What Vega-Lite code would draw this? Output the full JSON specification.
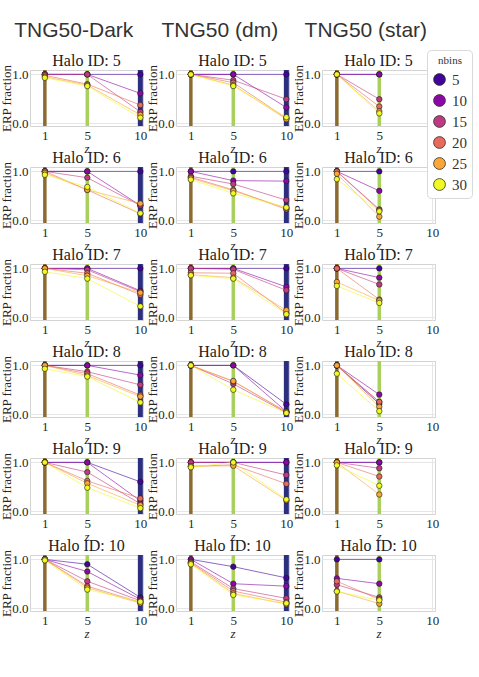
{
"$schema": "https://vega.github.io/schema/vega-lite/v6.json",
"background": "white",
"padding": {"top": 19, "left": 0, "right": 3, "bottom": 5},
"data": {"values": [
{"sim":"Dark","halo":5,"nbins":5,"z":1,"erp":1},{"sim":"Dark","halo":5,"nbins":5,"z":5,"erp":1},{"sim":"Dark","halo":5,"nbins":5,"z":10,"erp":1},
{"sim":"Dark","halo":5,"nbins":10,"z":1,"erp":1},{"sim":"Dark","halo":5,"nbins":10,"z":5,"erp":1},{"sim":"Dark","halo":5,"nbins":10,"z":10,"erp":0.61},
{"sim":"Dark","halo":5,"nbins":15,"z":1,"erp":1},{"sim":"Dark","halo":5,"nbins":15,"z":5,"erp":1},{"sim":"Dark","halo":5,"nbins":15,"z":10,"erp":0.23},
{"sim":"Dark","halo":5,"nbins":20,"z":1,"erp":0.98},{"sim":"Dark","halo":5,"nbins":20,"z":5,"erp":0.8},{"sim":"Dark","halo":5,"nbins":20,"z":10,"erp":0.37},
{"sim":"Dark","halo":5,"nbins":25,"z":1,"erp":0.95},{"sim":"Dark","halo":5,"nbins":25,"z":5,"erp":0.78},{"sim":"Dark","halo":5,"nbins":25,"z":10,"erp":0.17},
{"sim":"Dark","halo":5,"nbins":30,"z":1,"erp":0.93},{"sim":"Dark","halo":5,"nbins":30,"z":5,"erp":0.76},{"sim":"Dark","halo":5,"nbins":30,"z":10,"erp":0.11},
{"sim":"Dark","halo":6,"nbins":5,"z":1,"erp":1},{"sim":"Dark","halo":6,"nbins":5,"z":5,"erp":1},{"sim":"Dark","halo":6,"nbins":5,"z":10,"erp":1},
{"sim":"Dark","halo":6,"nbins":10,"z":1,"erp":1},{"sim":"Dark","halo":6,"nbins":10,"z":5,"erp":1},{"sim":"Dark","halo":6,"nbins":10,"z":10,"erp":0.3},
{"sim":"Dark","halo":6,"nbins":15,"z":1,"erp":1},{"sim":"Dark","halo":6,"nbins":15,"z":5,"erp":0.87},{"sim":"Dark","halo":6,"nbins":15,"z":10,"erp":0.3},
{"sim":"Dark","halo":6,"nbins":20,"z":1,"erp":1},{"sim":"Dark","halo":6,"nbins":20,"z":5,"erp":0.62},{"sim":"Dark","halo":6,"nbins":20,"z":10,"erp":0.13},
{"sim":"Dark","halo":6,"nbins":25,"z":1,"erp":0.97},{"sim":"Dark","halo":6,"nbins":25,"z":5,"erp":0.62},{"sim":"Dark","halo":6,"nbins":25,"z":10,"erp":0.34},
{"sim":"Dark","halo":6,"nbins":30,"z":1,"erp":0.93},{"sim":"Dark","halo":6,"nbins":30,"z":5,"erp":0.68},{"sim":"Dark","halo":6,"nbins":30,"z":10,"erp":0.14},
{"sim":"Dark","halo":7,"nbins":5,"z":1,"erp":1},{"sim":"Dark","halo":7,"nbins":5,"z":5,"erp":1},{"sim":"Dark","halo":7,"nbins":5,"z":10,"erp":1},
{"sim":"Dark","halo":7,"nbins":10,"z":1,"erp":1},{"sim":"Dark","halo":7,"nbins":10,"z":5,"erp":1},{"sim":"Dark","halo":7,"nbins":10,"z":10,"erp":0.54},
{"sim":"Dark","halo":7,"nbins":15,"z":1,"erp":1},{"sim":"Dark","halo":7,"nbins":15,"z":5,"erp":0.97},{"sim":"Dark","halo":7,"nbins":15,"z":10,"erp":0.52},
{"sim":"Dark","halo":7,"nbins":20,"z":1,"erp":1},{"sim":"Dark","halo":7,"nbins":20,"z":5,"erp":0.9},{"sim":"Dark","halo":7,"nbins":20,"z":10,"erp":0.46},
{"sim":"Dark","halo":7,"nbins":25,"z":1,"erp":1},{"sim":"Dark","halo":7,"nbins":25,"z":5,"erp":0.85},{"sim":"Dark","halo":7,"nbins":25,"z":10,"erp":0.5},
{"sim":"Dark","halo":7,"nbins":30,"z":1,"erp":0.93},{"sim":"Dark","halo":7,"nbins":30,"z":5,"erp":0.79},{"sim":"Dark","halo":7,"nbins":30,"z":10,"erp":0.22},
{"sim":"Dark","halo":8,"nbins":5,"z":1,"erp":1},{"sim":"Dark","halo":8,"nbins":5,"z":5,"erp":1},{"sim":"Dark","halo":8,"nbins":5,"z":10,"erp":1},
{"sim":"Dark","halo":8,"nbins":10,"z":1,"erp":1},{"sim":"Dark","halo":8,"nbins":10,"z":5,"erp":1},{"sim":"Dark","halo":8,"nbins":10,"z":10,"erp":0.8},
{"sim":"Dark","halo":8,"nbins":15,"z":1,"erp":1},{"sim":"Dark","halo":8,"nbins":15,"z":5,"erp":0.87},{"sim":"Dark","halo":8,"nbins":15,"z":10,"erp":0.6},
{"sim":"Dark","halo":8,"nbins":20,"z":1,"erp":1},{"sim":"Dark","halo":8,"nbins":20,"z":5,"erp":0.83},{"sim":"Dark","halo":8,"nbins":20,"z":10,"erp":0.39},
{"sim":"Dark","halo":8,"nbins":25,"z":1,"erp":1},{"sim":"Dark","halo":8,"nbins":25,"z":5,"erp":0.79},{"sim":"Dark","halo":8,"nbins":25,"z":10,"erp":0.36},
{"sim":"Dark","halo":8,"nbins":30,"z":1,"erp":0.93},{"sim":"Dark","halo":8,"nbins":30,"z":5,"erp":0.77},{"sim":"Dark","halo":8,"nbins":30,"z":10,"erp":0.24},
{"sim":"Dark","halo":9,"nbins":5,"z":1,"erp":1},{"sim":"Dark","halo":9,"nbins":5,"z":5,"erp":1},{"sim":"Dark","halo":9,"nbins":5,"z":10,"erp":0.6},
{"sim":"Dark","halo":9,"nbins":10,"z":1,"erp":1},{"sim":"Dark","halo":9,"nbins":10,"z":5,"erp":1},{"sim":"Dark","halo":9,"nbins":10,"z":10,"erp":0.21},
{"sim":"Dark","halo":9,"nbins":15,"z":1,"erp":1},{"sim":"Dark","halo":9,"nbins":15,"z":5,"erp":0.8},{"sim":"Dark","halo":9,"nbins":15,"z":10,"erp":0.15},
{"sim":"Dark","halo":9,"nbins":20,"z":1,"erp":1},{"sim":"Dark","halo":9,"nbins":20,"z":5,"erp":0.62},{"sim":"Dark","halo":9,"nbins":20,"z":10,"erp":0.26},
{"sim":"Dark","halo":9,"nbins":25,"z":1,"erp":1},{"sim":"Dark","halo":9,"nbins":25,"z":5,"erp":0.57},{"sim":"Dark","halo":9,"nbins":25,"z":10,"erp":0.12},
{"sim":"Dark","halo":9,"nbins":30,"z":1,"erp":1},{"sim":"Dark","halo":9,"nbins":30,"z":5,"erp":0.48},{"sim":"Dark","halo":9,"nbins":30,"z":10,"erp":0.06},
{"sim":"Dark","halo":10,"nbins":5,"z":1,"erp":1},{"sim":"Dark","halo":10,"nbins":5,"z":5,"erp":0.9},{"sim":"Dark","halo":10,"nbins":5,"z":10,"erp":0.22},
{"sim":"Dark","halo":10,"nbins":10,"z":1,"erp":1},{"sim":"Dark","halo":10,"nbins":10,"z":5,"erp":0.75},{"sim":"Dark","halo":10,"nbins":10,"z":10,"erp":0.18},
{"sim":"Dark","halo":10,"nbins":15,"z":1,"erp":1},{"sim":"Dark","halo":10,"nbins":15,"z":5,"erp":0.55},{"sim":"Dark","halo":10,"nbins":15,"z":10,"erp":0.15},
{"sim":"Dark","halo":10,"nbins":20,"z":1,"erp":1},{"sim":"Dark","halo":10,"nbins":20,"z":5,"erp":0.45},{"sim":"Dark","halo":10,"nbins":20,"z":10,"erp":0.12},
{"sim":"Dark","halo":10,"nbins":25,"z":1,"erp":1},{"sim":"Dark","halo":10,"nbins":25,"z":5,"erp":0.42},{"sim":"Dark","halo":10,"nbins":25,"z":10,"erp":0.1},
{"sim":"Dark","halo":10,"nbins":30,"z":1,"erp":0.98},{"sim":"Dark","halo":10,"nbins":30,"z":5,"erp":0.38},{"sim":"Dark","halo":10,"nbins":30,"z":10,"erp":0.13},
{"sim":"DM","halo":5,"nbins":5,"z":1,"erp":1},{"sim":"DM","halo":5,"nbins":5,"z":5,"erp":1},{"sim":"DM","halo":5,"nbins":5,"z":10,"erp":1},
{"sim":"DM","halo":5,"nbins":10,"z":1,"erp":1},{"sim":"DM","halo":5,"nbins":10,"z":5,"erp":1},{"sim":"DM","halo":5,"nbins":10,"z":10,"erp":0.32},
{"sim":"DM","halo":5,"nbins":15,"z":1,"erp":1},{"sim":"DM","halo":5,"nbins":15,"z":5,"erp":0.88},{"sim":"DM","halo":5,"nbins":15,"z":10,"erp":0.49},
{"sim":"DM","halo":5,"nbins":20,"z":1,"erp":1},{"sim":"DM","halo":5,"nbins":20,"z":5,"erp":0.83},{"sim":"DM","halo":5,"nbins":20,"z":10,"erp":0.1},
{"sim":"DM","halo":5,"nbins":25,"z":1,"erp":1},{"sim":"DM","halo":5,"nbins":25,"z":5,"erp":0.78},{"sim":"DM","halo":5,"nbins":25,"z":10,"erp":0.08},
{"sim":"DM","halo":5,"nbins":30,"z":1,"erp":1},{"sim":"DM","halo":5,"nbins":30,"z":5,"erp":0.76},{"sim":"DM","halo":5,"nbins":30,"z":10,"erp":0.12},
{"sim":"DM","halo":6,"nbins":5,"z":1,"erp":1},{"sim":"DM","halo":6,"nbins":5,"z":5,"erp":1},{"sim":"DM","halo":6,"nbins":5,"z":10,"erp":1},
{"sim":"DM","halo":6,"nbins":10,"z":1,"erp":1},{"sim":"DM","halo":6,"nbins":10,"z":5,"erp":0.81},{"sim":"DM","halo":6,"nbins":10,"z":10,"erp":0.8},
{"sim":"DM","halo":6,"nbins":15,"z":1,"erp":0.9},{"sim":"DM","halo":6,"nbins":15,"z":5,"erp":0.74},{"sim":"DM","halo":6,"nbins":15,"z":10,"erp":0.41},
{"sim":"DM","halo":6,"nbins":20,"z":1,"erp":0.88},{"sim":"DM","halo":6,"nbins":20,"z":5,"erp":0.62},{"sim":"DM","halo":6,"nbins":20,"z":10,"erp":0.22},
{"sim":"DM","halo":6,"nbins":25,"z":1,"erp":0.86},{"sim":"DM","halo":6,"nbins":25,"z":5,"erp":0.6},{"sim":"DM","halo":6,"nbins":25,"z":10,"erp":0.25},
{"sim":"DM","halo":6,"nbins":30,"z":1,"erp":0.83},{"sim":"DM","halo":6,"nbins":30,"z":5,"erp":0.55},{"sim":"DM","halo":6,"nbins":30,"z":10,"erp":0.26},
{"sim":"DM","halo":7,"nbins":5,"z":1,"erp":1},{"sim":"DM","halo":7,"nbins":5,"z":5,"erp":1},{"sim":"DM","halo":7,"nbins":5,"z":10,"erp":1},
{"sim":"DM","halo":7,"nbins":10,"z":1,"erp":1},{"sim":"DM","halo":7,"nbins":10,"z":5,"erp":1},{"sim":"DM","halo":7,"nbins":10,"z":10,"erp":0.62},
{"sim":"DM","halo":7,"nbins":15,"z":1,"erp":1},{"sim":"DM","halo":7,"nbins":15,"z":5,"erp":0.98},{"sim":"DM","halo":7,"nbins":15,"z":10,"erp":0.55},
{"sim":"DM","halo":7,"nbins":20,"z":1,"erp":0.91},{"sim":"DM","halo":7,"nbins":20,"z":5,"erp":0.9},{"sim":"DM","halo":7,"nbins":20,"z":10,"erp":0.08},
{"sim":"DM","halo":7,"nbins":25,"z":1,"erp":0.87},{"sim":"DM","halo":7,"nbins":25,"z":5,"erp":0.81},{"sim":"DM","halo":7,"nbins":25,"z":10,"erp":0.14},
{"sim":"DM","halo":7,"nbins":30,"z":1,"erp":0.86},{"sim":"DM","halo":7,"nbins":30,"z":5,"erp":0.79},{"sim":"DM","halo":7,"nbins":30,"z":10,"erp":0.06},
{"sim":"DM","halo":8,"nbins":5,"z":1,"erp":1},{"sim":"DM","halo":8,"nbins":5,"z":5,"erp":1},{"sim":"DM","halo":8,"nbins":5,"z":10,"erp":0.2},
{"sim":"DM","halo":8,"nbins":10,"z":1,"erp":1},{"sim":"DM","halo":8,"nbins":10,"z":5,"erp":1},{"sim":"DM","halo":8,"nbins":10,"z":10,"erp":0.05},
{"sim":"DM","halo":8,"nbins":15,"z":1,"erp":1},{"sim":"DM","halo":8,"nbins":15,"z":5,"erp":0.62},{"sim":"DM","halo":8,"nbins":15,"z":10,"erp":0.03},
{"sim":"DM","halo":8,"nbins":20,"z":1,"erp":1},{"sim":"DM","halo":8,"nbins":20,"z":5,"erp":0.67},{"sim":"DM","halo":8,"nbins":20,"z":10,"erp":0.05},
{"sim":"DM","halo":8,"nbins":25,"z":1,"erp":1},{"sim":"DM","halo":8,"nbins":25,"z":5,"erp":0.68},{"sim":"DM","halo":8,"nbins":25,"z":10,"erp":0.04},
{"sim":"DM","halo":8,"nbins":30,"z":1,"erp":1},{"sim":"DM","halo":8,"nbins":30,"z":5,"erp":0.5},{"sim":"DM","halo":8,"nbins":30,"z":10,"erp":0.02},
{"sim":"DM","halo":9,"nbins":5,"z":1,"erp":1},{"sim":"DM","halo":9,"nbins":5,"z":5,"erp":1},{"sim":"DM","halo":9,"nbins":5,"z":10,"erp":1},
{"sim":"DM","halo":9,"nbins":10,"z":1,"erp":1},{"sim":"DM","halo":9,"nbins":10,"z":5,"erp":1},{"sim":"DM","halo":9,"nbins":10,"z":10,"erp":1},
{"sim":"DM","halo":9,"nbins":15,"z":1,"erp":1},{"sim":"DM","halo":9,"nbins":15,"z":5,"erp":1},{"sim":"DM","halo":9,"nbins":15,"z":10,"erp":0.74},
{"sim":"DM","halo":9,"nbins":20,"z":1,"erp":0.92},{"sim":"DM","halo":9,"nbins":20,"z":5,"erp":0.95},{"sim":"DM","halo":9,"nbins":20,"z":10,"erp":0.56},
{"sim":"DM","halo":9,"nbins":25,"z":1,"erp":0.92},{"sim":"DM","halo":9,"nbins":25,"z":5,"erp":0.93},{"sim":"DM","halo":9,"nbins":25,"z":10,"erp":0.22},
{"sim":"DM","halo":9,"nbins":30,"z":1,"erp":0.9},{"sim":"DM","halo":9,"nbins":30,"z":5,"erp":1},{"sim":"DM","halo":9,"nbins":30,"z":10,"erp":0.24},
{"sim":"DM","halo":10,"nbins":5,"z":1,"erp":1},{"sim":"DM","halo":10,"nbins":5,"z":5,"erp":0.85},{"sim":"DM","halo":10,"nbins":5,"z":10,"erp":0.62},
{"sim":"DM","halo":10,"nbins":10,"z":1,"erp":1},{"sim":"DM","halo":10,"nbins":10,"z":5,"erp":0.5},{"sim":"DM","halo":10,"nbins":10,"z":10,"erp":0.45},
{"sim":"DM","halo":10,"nbins":15,"z":1,"erp":0.95},{"sim":"DM","halo":10,"nbins":15,"z":5,"erp":0.4},{"sim":"DM","halo":10,"nbins":15,"z":10,"erp":0.2},
{"sim":"DM","halo":10,"nbins":20,"z":1,"erp":0.93},{"sim":"DM","halo":10,"nbins":20,"z":5,"erp":0.35},{"sim":"DM","halo":10,"nbins":20,"z":10,"erp":0.12},
{"sim":"DM","halo":10,"nbins":25,"z":1,"erp":0.92},{"sim":"DM","halo":10,"nbins":25,"z":5,"erp":0.3},{"sim":"DM","halo":10,"nbins":25,"z":10,"erp":0.08},
{"sim":"DM","halo":10,"nbins":30,"z":1,"erp":0.9},{"sim":"DM","halo":10,"nbins":30,"z":5,"erp":0.27},{"sim":"DM","halo":10,"nbins":30,"z":10,"erp":0.1},
{"sim":"Star","halo":5,"nbins":5,"z":1,"erp":1},{"sim":"Star","halo":5,"nbins":5,"z":5,"erp":1},
{"sim":"Star","halo":5,"nbins":10,"z":1,"erp":1},{"sim":"Star","halo":5,"nbins":10,"z":5,"erp":1},
{"sim":"Star","halo":5,"nbins":15,"z":1,"erp":1},{"sim":"Star","halo":5,"nbins":15,"z":5,"erp":0.49},
{"sim":"Star","halo":5,"nbins":20,"z":1,"erp":1},{"sim":"Star","halo":5,"nbins":20,"z":5,"erp":0.34},
{"sim":"Star","halo":5,"nbins":25,"z":1,"erp":1},{"sim":"Star","halo":5,"nbins":25,"z":5,"erp":0.24},
{"sim":"Star","halo":5,"nbins":30,"z":1,"erp":1},{"sim":"Star","halo":5,"nbins":30,"z":5,"erp":0.2},
{"sim":"Star","halo":6,"nbins":5,"z":1,"erp":1},{"sim":"Star","halo":6,"nbins":5,"z":5,"erp":1},
{"sim":"Star","halo":6,"nbins":10,"z":1,"erp":1},{"sim":"Star","halo":6,"nbins":10,"z":5,"erp":0.6},
{"sim":"Star","halo":6,"nbins":15,"z":1,"erp":1},{"sim":"Star","halo":6,"nbins":15,"z":5,"erp":0.22},
{"sim":"Star","halo":6,"nbins":20,"z":1,"erp":1},{"sim":"Star","halo":6,"nbins":20,"z":5,"erp":0.2},
{"sim":"Star","halo":6,"nbins":25,"z":1,"erp":0.95},{"sim":"Star","halo":6,"nbins":25,"z":5,"erp":0.07},
{"sim":"Star","halo":6,"nbins":30,"z":1,"erp":0.84},{"sim":"Star","halo":6,"nbins":30,"z":5,"erp":0.18},
{"sim":"Star","halo":7,"nbins":5,"z":1,"erp":1},{"sim":"Star","halo":7,"nbins":5,"z":5,"erp":1},
{"sim":"Star","halo":7,"nbins":10,"z":1,"erp":1},{"sim":"Star","halo":7,"nbins":10,"z":5,"erp":0.81},
{"sim":"Star","halo":7,"nbins":15,"z":1,"erp":1},{"sim":"Star","halo":7,"nbins":15,"z":5,"erp":0.67},
{"sim":"Star","halo":7,"nbins":20,"z":1,"erp":1},{"sim":"Star","halo":7,"nbins":20,"z":5,"erp":0.36},
{"sim":"Star","halo":7,"nbins":25,"z":1,"erp":0.72},{"sim":"Star","halo":7,"nbins":25,"z":5,"erp":0.34},
{"sim":"Star","halo":7,"nbins":30,"z":1,"erp":0.64},{"sim":"Star","halo":7,"nbins":30,"z":5,"erp":0.29},
{"sim":"Star","halo":8,"nbins":5,"z":1,"erp":1},{"sim":"Star","halo":8,"nbins":5,"z":5,"erp":0.21},
{"sim":"Star","halo":8,"nbins":10,"z":1,"erp":1},{"sim":"Star","halo":8,"nbins":10,"z":5,"erp":0.4},
{"sim":"Star","halo":8,"nbins":15,"z":1,"erp":1},{"sim":"Star","halo":8,"nbins":15,"z":5,"erp":0.25},
{"sim":"Star","halo":8,"nbins":20,"z":1,"erp":1},{"sim":"Star","halo":8,"nbins":20,"z":5,"erp":0.25},
{"sim":"Star","halo":8,"nbins":25,"z":1,"erp":1},{"sim":"Star","halo":8,"nbins":25,"z":5,"erp":0.15},
{"sim":"Star","halo":8,"nbins":30,"z":1,"erp":0.83},{"sim":"Star","halo":8,"nbins":30,"z":5,"erp":0.06},
{"sim":"Star","halo":9,"nbins":5,"z":1,"erp":1},{"sim":"Star","halo":9,"nbins":5,"z":5,"erp":1},
{"sim":"Star","halo":9,"nbins":10,"z":1,"erp":1},{"sim":"Star","halo":9,"nbins":10,"z":5,"erp":1},
{"sim":"Star","halo":9,"nbins":15,"z":1,"erp":1},{"sim":"Star","halo":9,"nbins":15,"z":5,"erp":0.88},
{"sim":"Star","halo":9,"nbins":20,"z":1,"erp":1},{"sim":"Star","halo":9,"nbins":20,"z":5,"erp":0.71},
{"sim":"Star","halo":9,"nbins":25,"z":1,"erp":1},{"sim":"Star","halo":9,"nbins":25,"z":5,"erp":0.34},
{"sim":"Star","halo":9,"nbins":30,"z":1,"erp":0.94},{"sim":"Star","halo":9,"nbins":30,"z":5,"erp":0.52},
{"sim":"Star","halo":10,"nbins":5,"z":1,"erp":1},{"sim":"Star","halo":10,"nbins":5,"z":5,"erp":1},
{"sim":"Star","halo":10,"nbins":10,"z":1,"erp":0.61},{"sim":"Star","halo":10,"nbins":10,"z":5,"erp":0.5},
{"sim":"Star","halo":10,"nbins":15,"z":1,"erp":0.48},{"sim":"Star","halo":10,"nbins":15,"z":5,"erp":0.22},
{"sim":"Star","halo":10,"nbins":20,"z":1,"erp":0.55},{"sim":"Star","halo":10,"nbins":20,"z":5,"erp":0.18},
{"sim":"Star","halo":10,"nbins":25,"z":1,"erp":0.35},{"sim":"Star","halo":10,"nbins":25,"z":5,"erp":0.09},
{"sim":"Star","halo":10,"nbins":30,"z":1,"erp":0.34},{"sim":"Star","halo":10,"nbins":30,"z":5,"erp":0.16}
]},
"spacing": -2,
"hconcat": [
{"title": {"text": "TNG50-Dark", "anchor": "middle"},
 "transform": [{"filter": "datum.sim == 'Dark'"}],
 "facet": {"field": "halo", "type": "ordinal", "title": null, "header": {"labelExpr": "'Halo ID: ' + datum.value", "labelFont": "Liberation Serif", "labelFontSize": 16, "labelFontWeight": "normal", "labelColor": "#222", "labelPadding": -5}},
 "columns": 1,
 "spacing": {"row": -7},
 "resolve": {"axis": {"x": "independent", "y": "independent"}},
 "spec": {"width": 113, "height": 56, "layer": [
  {"transform": [{"filter": "datum.nbins == 5"}], "mark": {"type": "rule"},
   "encoding": {"x": {"field": "z", "type": "quantitative", "scale": {"domain": [-0.4, 10.25], "nice": false, "zero": false}, "axis": {"values": [1, 5, 10], "title": "z"}},
    "color": {"condition": [{"test": "datum.z == 1", "value": "#8b6b30"}, {"test": "datum.z == 5", "value": "#a9cf5d"}], "value": "#2c2f7d"},
    "strokeWidth": {"condition": {"test": "datum.z == 10", "value": 5}, "value": 3.5}}},
  {"mark": {"type": "line", "strokeWidth": 0.8, "opacity": 0.75},
   "encoding": {"x": {"field": "z", "type": "quantitative"}, "y": {"field": "erp", "type": "quantitative", "scale": {"domain": [-0.06, 1.09], "nice": false}, "axis": {"values": [0, 0.5, 1], "format": ".1f", "title": "ERP fraction"}},
    "stroke": {"field": "nbins", "type": "ordinal", "scale": {"range": ["#41049d", "#8a09a5", "#c03a83", "#e56b5d", "#fca636", "#f0f921"]}, "legend": null}}},
  {"mark": {"type": "point", "shape": "circle", "filled": true, "size": 30, "stroke": "#1a1a1a", "strokeWidth": 0.6, "opacity": 1},
   "encoding": {"x": {"field": "z", "type": "quantitative"}, "y": {"field": "erp", "type": "quantitative"},
    "fill": {"field": "nbins", "type": "ordinal", "title": "nbins", "scale": {"domain": [5, 10, 15, 20, 25, 30], "range": ["#41049d", "#8a09a5", "#c03a83", "#e56b5d", "#fca636", "#f0f921"]}}}}
 ]}},
{"title": {"text": "TNG50 (dm)", "anchor": "middle"},
 "transform": [{"filter": "datum.sim == 'DM'"}],
 "facet": {"field": "halo", "type": "ordinal", "title": null, "header": {"labelExpr": "'Halo ID: ' + datum.value", "labelFont": "Liberation Serif", "labelFontSize": 16, "labelFontWeight": "normal", "labelColor": "#222", "labelPadding": -5}},
 "columns": 1,
 "spacing": {"row": -7},
 "resolve": {"axis": {"x": "independent", "y": "independent"}},
 "spec": {"width": 113, "height": 56, "layer": [
  {"transform": [{"filter": "datum.nbins == 5"}], "mark": {"type": "rule"},
   "encoding": {"x": {"field": "z", "type": "quantitative", "scale": {"domain": [-0.4, 10.25], "nice": false, "zero": false}, "axis": {"values": [1, 5, 10], "title": "z"}},
    "color": {"condition": [{"test": "datum.z == 1", "value": "#8b6b30"}, {"test": "datum.z == 5", "value": "#a9cf5d"}], "value": "#2c2f7d"},
    "strokeWidth": {"condition": {"test": "datum.z == 10", "value": 5}, "value": 3.5}}},
  {"mark": {"type": "line", "strokeWidth": 0.8, "opacity": 0.75},
   "encoding": {"x": {"field": "z", "type": "quantitative"}, "y": {"field": "erp", "type": "quantitative", "scale": {"domain": [-0.06, 1.09], "nice": false}, "axis": {"values": [0, 0.5, 1], "format": ".1f", "title": "ERP fraction"}},
    "stroke": {"field": "nbins", "type": "ordinal", "scale": {"range": ["#41049d", "#8a09a5", "#c03a83", "#e56b5d", "#fca636", "#f0f921"]}, "legend": null}}},
  {"mark": {"type": "point", "shape": "circle", "filled": true, "size": 30, "stroke": "#1a1a1a", "strokeWidth": 0.6, "opacity": 1},
   "encoding": {"x": {"field": "z", "type": "quantitative"}, "y": {"field": "erp", "type": "quantitative"},
    "fill": {"field": "nbins", "type": "ordinal", "title": "nbins", "scale": {"domain": [5, 10, 15, 20, 25, 30], "range": ["#41049d", "#8a09a5", "#c03a83", "#e56b5d", "#fca636", "#f0f921"]}}}}
 ]}},
{"title": {"text": "TNG50 (star)", "anchor": "middle"},
 "transform": [{"filter": "datum.sim == 'Star'"}],
 "facet": {"field": "halo", "type": "ordinal", "title": null, "header": {"labelExpr": "'Halo ID: ' + datum.value", "labelFont": "Liberation Serif", "labelFontSize": 16, "labelFontWeight": "normal", "labelColor": "#222", "labelPadding": -5}},
 "columns": 1,
 "spacing": {"row": -7},
 "resolve": {"axis": {"x": "independent", "y": "independent"}},
 "spec": {"width": 113, "height": 56, "layer": [
  {"transform": [{"filter": "datum.nbins == 5"}], "mark": {"type": "rule"},
   "encoding": {"x": {"field": "z", "type": "quantitative", "scale": {"domain": [-0.4, 10.25], "nice": false, "zero": false}, "axis": {"values": [1, 5, 10], "title": "z"}},
    "color": {"condition": [{"test": "datum.z == 1", "value": "#8b6b30"}, {"test": "datum.z == 5", "value": "#a9cf5d"}], "value": "#2c2f7d"},
    "strokeWidth": {"condition": {"test": "datum.z == 10", "value": 5}, "value": 3.5}}},
  {"mark": {"type": "line", "strokeWidth": 0.8, "opacity": 0.75},
   "encoding": {"x": {"field": "z", "type": "quantitative"}, "y": {"field": "erp", "type": "quantitative", "scale": {"domain": [-0.06, 1.09], "nice": false}, "axis": {"values": [0, 0.5, 1], "format": ".1f", "title": "ERP fraction"}},
    "stroke": {"field": "nbins", "type": "ordinal", "scale": {"range": ["#41049d", "#8a09a5", "#c03a83", "#e56b5d", "#fca636", "#f0f921"]}, "legend": null}}},
  {"mark": {"type": "point", "shape": "circle", "filled": true, "size": 30, "stroke": "#1a1a1a", "strokeWidth": 0.6, "opacity": 1},
   "encoding": {"x": {"field": "z", "type": "quantitative"}, "y": {"field": "erp", "type": "quantitative"},
    "fill": {"field": "nbins", "type": "ordinal", "title": "nbins", "scale": {"domain": [5, 10, 15, 20, 25, 30], "range": ["#41049d", "#8a09a5", "#c03a83", "#e56b5d", "#fca636", "#f0f921"]}}}}
 ]}}
],
"config": {
 "font": "Liberation Serif",
 "view": {"stroke": "#d4d4d4"},
 "axis": {"labelFont": "Liberation Serif", "labelFontSize": 13, "labelColor": "#262626", "titleFont": "Liberation Serif", "titleFontSize": 13, "titleFontWeight": "normal", "titleColor": "#262626", "ticks": false, "domain": false, "gridColor": "#e6e6e6", "grid": true, "labelPadding": 3, "titlePadding": 1},
 "axisX": {"titleFontStyle": "italic", "titlePadding": 0},
 "axisY": {"titlePadding": -2, "labelPadding": 2},
 "header": {"labelFont": "Liberation Serif", "labelFontSize": 16, "labelColor": "#222"},
 "title": {"font": "Liberation Sans", "fontSize": 21, "fontWeight": "normal", "color": "#333", "offset": 12, "anchor": "middle"},
 "legend": {"orient": "none", "legendX": 397, "legendY": -20, "titleFont": "Liberation Serif", "titleFontSize": 11, "titleFontWeight": "normal", "titleColor": "#333", "labelFont": "Liberation Serif", "labelFontSize": 15, "labelColor": "#333", "symbolSize": 140, "symbolStrokeColor": "#333", "symbolStrokeWidth": 0.8, "rowPadding": 4, "padding": 5, "labelOffset": 5, "fillColor": "white", "strokeColor": "#d9d9d9", "cornerRadius": 4, "titleAnchor": "middle", "titlePadding": 6}
}
}
